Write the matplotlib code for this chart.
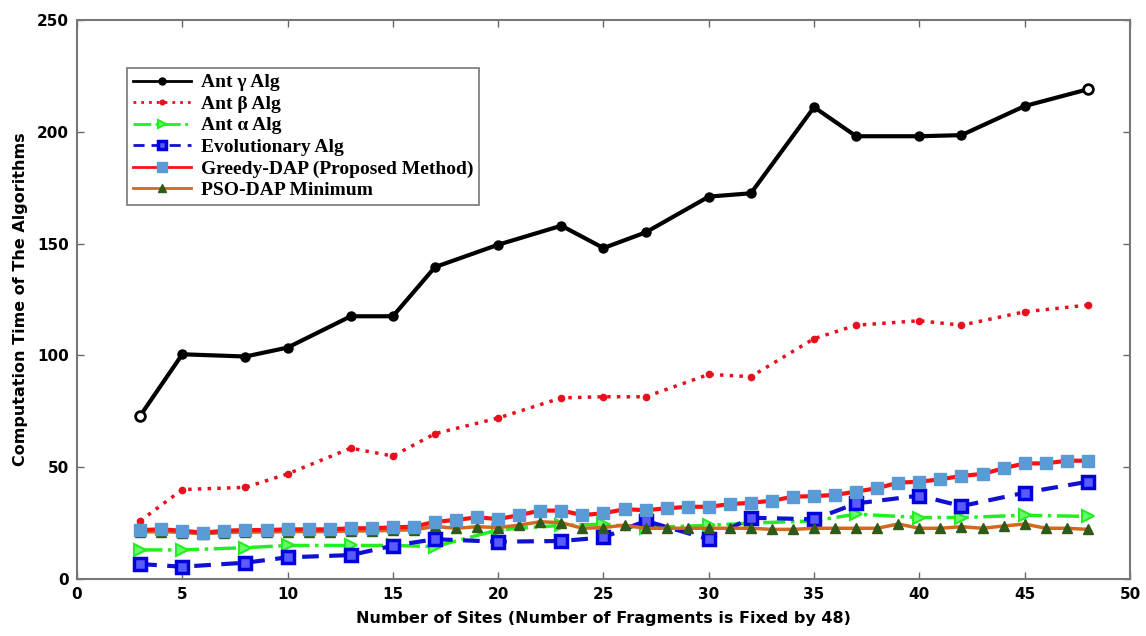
import matplotlib
matplotlib.use("Agg")
import matplotlib.pyplot as plt

# ---- data ----
sites_main = [3, 5, 8, 10, 13, 15, 17, 20, 23, 25, 27, 30, 32, 35, 37, 40, 42, 45, 48]
ant_gamma = [73, 100.5, 99.5, 103.5, 117.5, 117.5, 139.5, 149.5, 158, 148, 155, 171, 172.5, 211, 198, 198, 198.5, 211.5, 219]
ant_beta = [26, 40, 41, 47, 58.5, 55, 65, 72, 81, 81.5, 81.5, 91.5, 90.5, 107.5, 113.5, 115.5, 113.5, 119.5, 122.5]
ant_alpha = [13, 13, 14, 15, 15, 15, 14.5, 22, 24, 24.5, 23, 24, 25, 26, 29, 27.5, 27.5, 28.5, 28]
evolutionary = [6.7, 5.5, 7.3, 9.7, 10.7, 14.9, 17.8, 16.7, 17.0, 18.6, 26.0, 17.8, 27.4, 26.7, 33.8, 37.3, 32.6, 38.6, 43.5]

sites_all = list(range(3, 49))
greedy = [21.9, 22.2, 21.6, 20.7, 21.6, 21.9, 21.9, 22.2, 22.2, 22.2, 22.7, 22.7, 23.1, 23.4,
          25.6, 26.4, 27.6, 26.8, 28.6, 30.6, 30.6, 28.6, 29.4, 31.2, 30.8, 31.6, 32.3, 32.3,
          33.5, 34.1, 35.0, 36.8, 37.1, 37.6, 39.1, 40.6, 43.1, 43.5, 44.6, 46.1, 47.0, 49.5,
          51.7, 51.7, 52.9, 52.9]
pso = [21.0, 21.2, 20.8, 20.2, 20.8, 21.0, 21.0, 21.2, 21.2, 21.2, 21.5, 21.5, 21.8, 22.0,
       23.5, 22.7, 23.4, 23.0, 24.1, 25.6, 25.2, 22.7, 23.0, 24.1, 22.7, 22.7, 22.7, 22.7,
       22.7, 22.7, 22.2, 22.2, 22.7, 22.7, 22.7, 22.7, 24.6, 22.7, 22.7, 23.4, 22.7, 23.7,
       24.6, 22.7, 22.7, 22.2]

labels = ["Ant \u03b3 Alg", "Ant \u03b2 Alg", "Ant \u03b1 Alg", "Evolutionary Alg",
          "Greedy-DAP (Proposed Method)", "PSO-DAP Minimum"]
x_label = "Number of Sites (Number of Fragments is Fixed by 48)"
y_label = "Computation Time of The Algorithms"

# ---- figure ----
fig = plt.figure(figsize=(11.46, 6.36), dpi=100)
ax = fig.add_axes([0.0672, 0.0896, 0.9188, 0.879])

ax.plot(sites_main, ant_gamma, color="black", lw=3, marker="o", ms=6,
        mfc="black", mec="black", mew=1.5, label=labels[0], zorder=6)
ax.plot([sites_main[0], sites_main[-1]], [ant_gamma[0], ant_gamma[-1]], ls="none",
        marker="o", ms=7, mfc="white", mec="black", mew=2, zorder=7)
ax.plot(sites_main, ant_beta, color="#e8101c", lw=2.5, ls=(0, (1, 1.8)), marker="o", ms=4.5,
        mfc="#e8101c", mec="#e8101c", label=labels[1], zorder=5)
ax.plot(sites_main, ant_alpha, color="#22ee22", lw=2.5, ls="-.", marker=">", ms=8,
        mfc="#66ff66", mec="#22ee22", mew=1.5, label=labels[2], zorder=3)
ax.plot(sites_main, evolutionary, color="#1010d0", lw=3, ls=(0, (4, 2.5)), marker="s", ms=8.5,
        mfc="#5a5aff", mec="#0000dd", mew=2.5, label=labels[3], zorder=4)
ax.plot(sites_all, pso, color="#d2691e", lw=2.5, marker="^", ms=7,
        mfc="#2f5a1a", mec="#2f5a1a", label=labels[5], zorder=5)
ax.plot(sites_all, greedy, color="#ff1010", lw=3, marker="s", ms=9,
        mfc="#5b9bd5", mec="#5b9bd5", label=labels[4], zorder=6)

ax.set_xlim(0, 50)
ax.set_ylim(0, 250)
ax.set_xticks(range(0, 51, 5))
ax.set_yticks(range(0, 251, 50))
ax.tick_params(direction="in", length=5, width=1, color="#666666",
               top=True, right=True, labelsize=11, pad=6)
for lab in ax.get_xticklabels() + ax.get_yticklabels():
    lab.set_fontweight("bold")
for sp in ax.spines.values():
    sp.set_color("#777777")
    sp.set_linewidth(1.5)

ax.set_xlabel(x_label, fontsize=11.5, fontweight="bold", labelpad=6)
ax.set_ylabel(y_label, fontsize=11.5, fontweight="bold", labelpad=6)

handles, labs = ax.get_legend_handles_labels()
order = [labs.index(l) for l in labels]
leg = ax.legend([handles[i] for i in order], [labs[i] for i in order],
                loc="upper left", bbox_to_anchor=(0.0475, 0.914), borderaxespad=0,
                frameon=True, fancybox=False, edgecolor="#777777", framealpha=1,
                prop={"family": "Liberation Serif", "weight": "bold", "size": 14},
                handlelength=3.0, labelspacing=0.2, borderpad=0.3, handletextpad=0.5,
                markerscale=0.75)
leg.get_frame().set_linewidth(1.2)
for ln in leg.get_lines():
    ln.set_linewidth(2)

fig.savefig("out.png", dpi=100)
